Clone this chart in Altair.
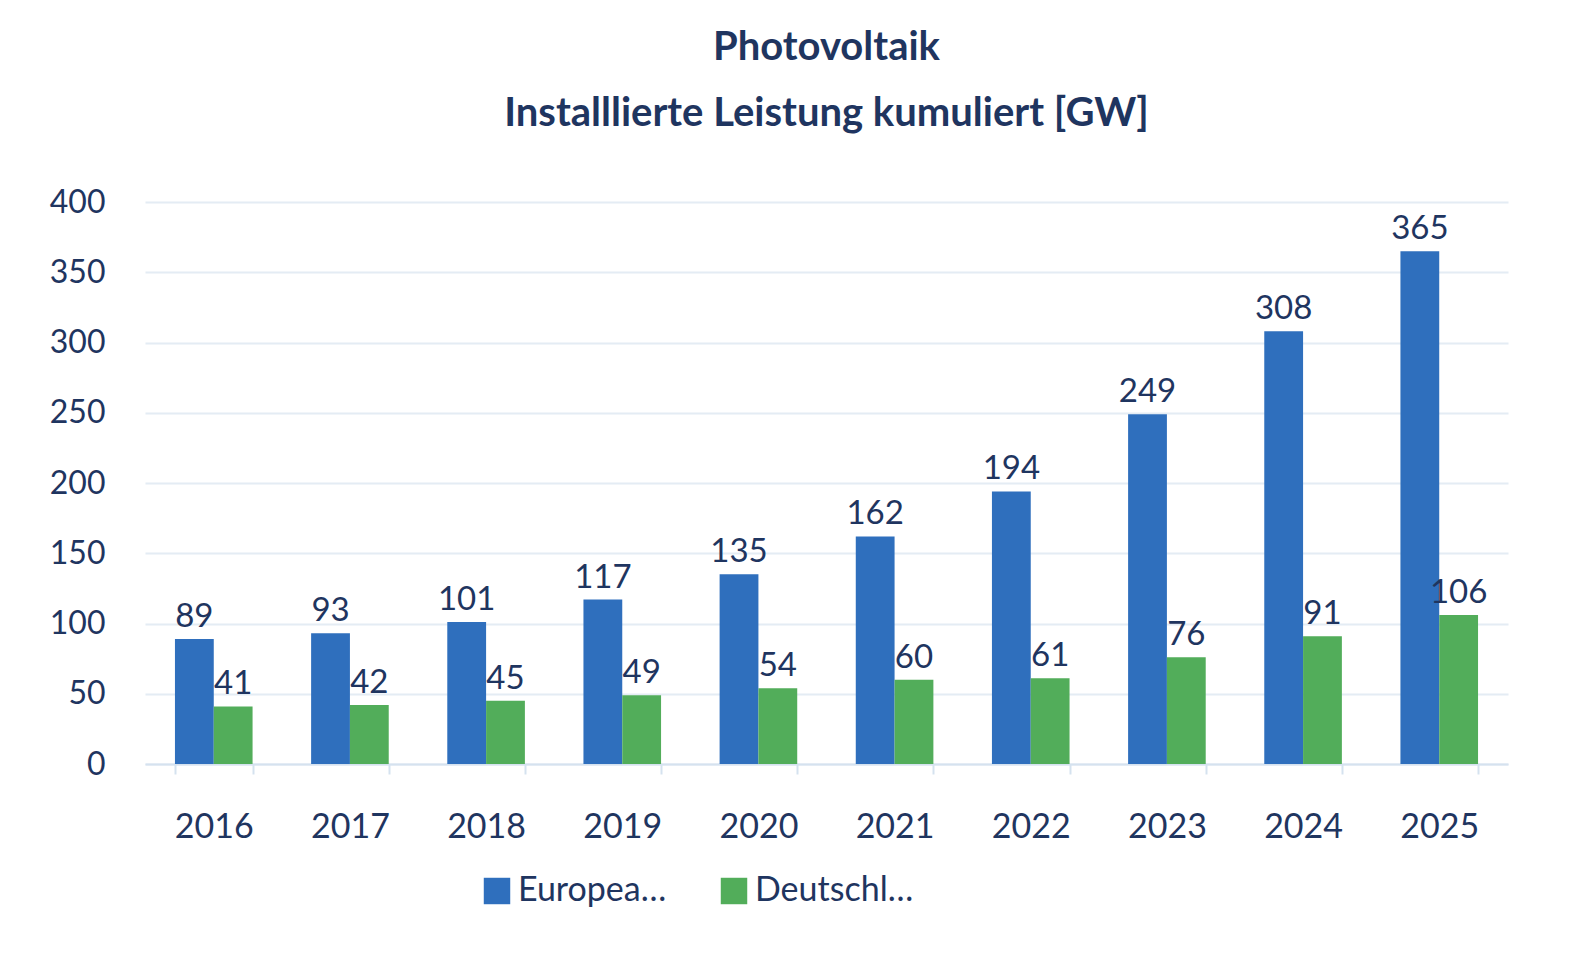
import altair as alt
import pandas as pd

years = ["2016", "2017", "2018", "2019", "2020", "2021", "2022", "2023", "2024", "2025"]
eu = [89, 93, 101, 117, 135, 162, 194, 249, 308, 365]
de = [41, 42, 45, 49, 54, 60, 61, 76, 91, 106]
series = ["European Union", "Deutschland"]

rows = []
for y, a, b in zip(years, eu, de):
    rows.append({"year": y, "series": series[0], "value": a})
    rows.append({"year": y, "series": series[1], "value": b})
df = pd.DataFrame(rows)

navy = "#1f3560"
font = "Lato"

base = alt.Chart(df).encode(
    x=alt.X("year:N", title=None, scale=alt.Scale(paddingInner=0.43, paddingOuter=0.22),
            axis=alt.Axis(labelAngle=0, labelFontSize=34, labelColor=navy, labelFont=font,
                          labelPadding=36, domainColor="#d5e2ef", tickColor="#d5e2ef",
                          tickBand="extent", tickSize=10, domainWidth=2, tickWidth=2)),
    xOffset=alt.XOffset("series:N", sort=series),
    y=alt.Y("value:Q", title=None, scale=alt.Scale(domain=[0, 400]),
            axis=alt.Axis(values=list(range(0, 401, 50)), labelFontSize=32, labelColor=navy,
                          labelFont=font, domain=False, ticks=False, labelPadding=40,
                          gridColor="#e4ecf4", gridWidth=2)),
)

bars = base.mark_bar().encode(
    color=alt.Color("series:N", sort=series,
                    scale=alt.Scale(domain=series, range=["#2f6fbd", "#52ad5a"]),
                    legend=alt.Legend(title=None, orient="none", direction="horizontal",
                                      legendX=335, legendY=672, symbolType="square",
                                      symbolSize=700, symbolStrokeWidth=0, labelFontSize=34,
                                      labelColor=navy, labelFont=font, columnPadding=50,
                                      symbolOpacity=1))
)

labels = base.mark_text(dy=-22, fontSize=33, color=navy, font=font).encode(
    text="value:Q"
)

chart = (bars + labels).properties(
    width=1363, height=562,
    autosize=alt.AutoSizeParams(type="none"),
    padding={"left": 137, "top": 194, "right": 60, "bottom": 180},
    title=alt.TitleParams(["Photovoltaik", "Installlierte Leistung kumuliert [GW]"],
                          fontSize=40, font=font, fontWeight="bold", color=navy,
                          anchor="middle", offset=52, lineHeight=66),
).configure_view(stroke=None)

chart.save("out.html", embed_options={"renderer": "svg", "actions": False})
